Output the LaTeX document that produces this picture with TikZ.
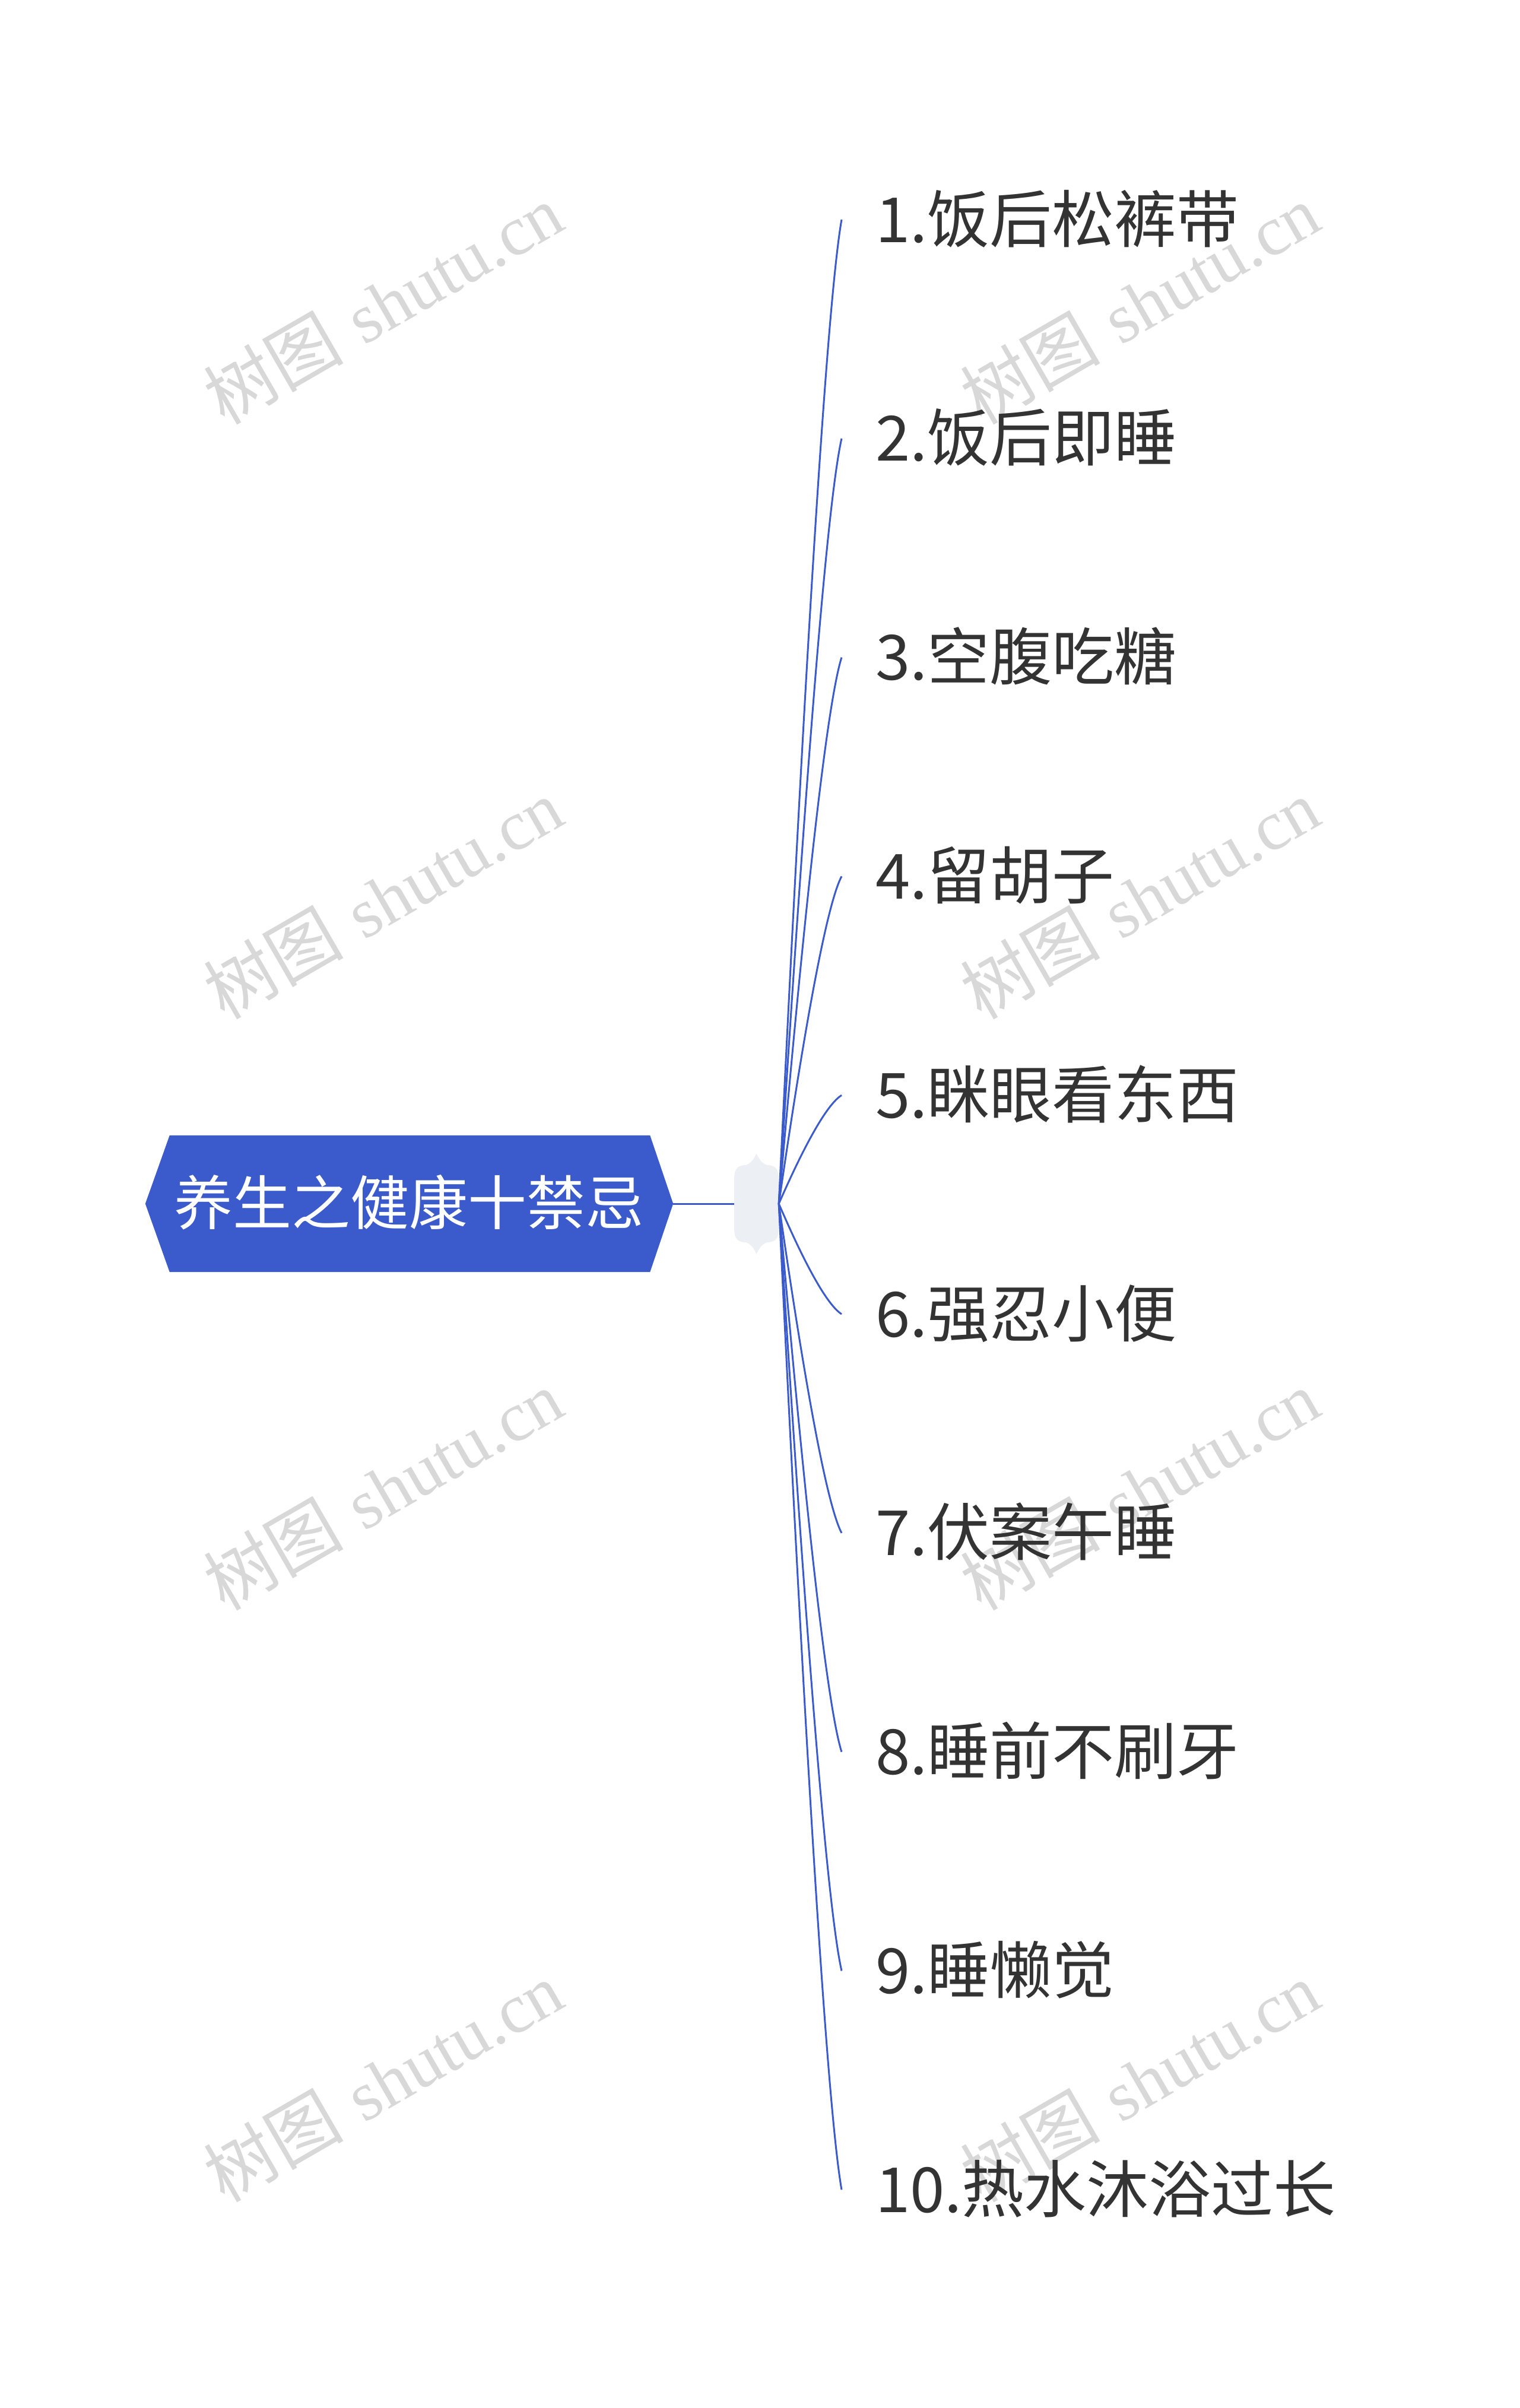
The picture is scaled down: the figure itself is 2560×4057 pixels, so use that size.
\documentclass[tikz,border=0pt]{standalone}
\usepackage{fontspec}
\newfontfamily\cjk{Noto Sans CJK SC}
\newfontfamily\wmlatin{Liberation Serif}
\usetikzlibrary{backgrounds,calc}
\definecolor{mainblue}{RGB}{59,91,204}
\definecolor{hubgray}{RGB}{236,239,243}
\definecolor{txt}{RGB}{51,51,51}
\definecolor{wmgray}{RGB}{216,216,216}
\begin{document}
\begin{tikzpicture}[x=1pt,y=-1pt,
  branch/.style={draw=mainblue,line width=3pt},
  leaf/.style={anchor=west,inner xsep=57pt,inner ysep=0pt,text=txt,
    text height=84pt,text depth=8pt,font=\cjk\fontsize{105}{120}\selectfont},
  rootnode/.style={minimum width=889pt,minimum height=230pt,inner sep=0pt,text=white,
    text height=79pt,text depth=8pt,font=\cjk\fontsize{99}{110}\selectfont},
  watermark/.style={text=wmgray,rotate=30,inner sep=0pt,font=\fontsize{118}{130}\selectfont}]
\useasboundingbox (0,0) rectangle (2560,4057);
\begin{scope}[on background layer]
\fill[white] (0,0) rectangle (2560,4057);
\end{scope}

% watermarks
\foreach \x/\y/\n in {645/512/1,645/1514/2,645/2510/3,645/3507/4,1920/512/5,1920/1514/6,1920/2510/7,1920/3507/8}
  \node[watermark] (wm\n) at (\x,\y) {{\cjk 树图} {\wmlatin shutu.cn}};

% root
\node[rootnode] (root) at (689.5,2028) {养生之健康十禁忌};
\begin{scope}[on background layer]
\fill[mainblue] (root.west) -- ([xshift=41pt]root.north west) -- ([xshift=-39pt]root.north east)
  -- (root.east) -- ([xshift=-39pt]root.south east) -- ([xshift=41pt]root.south west) -- cycle;
\end{scope}

% hub (collapse marker)
\node[minimum width=75pt,minimum height=130pt,inner sep=0pt] (hub) at (1274.5,2028) {};
\begin{scope}[on background layer]
\fill[hubgray,shift={(hub.center)}] (-37.5,-43) .. controls (-37.5,-60) and (-30,-65) .. (-18,-65)
  .. controls (-8,-68) and (-3,-78) .. (0,-85) .. controls (3,-78) and (8,-68) .. (18,-65)
  .. controls (30,-65) and (37.5,-60) .. (37.5,-43) -- (37.5,43)
  .. controls (37.5,60) and (30,65) .. (18,65) .. controls (8,68) and (3,78) .. (0,85)
  .. controls (-3,78) and (-8,68) .. (-18,65) .. controls (-30,65) and (-37.5,60) .. (-37.5,43) -- cycle;
\end{scope}
\draw[branch] (root.east) -- (hub.west);

% children
\node[leaf] (c1) at (1418,370) {1.饭后松裤带};
\node[leaf] (c2) at (1418,738.8) {2.饭后即睡};
\node[leaf] (c3) at (1418,1107.6) {3.空腹吃糖};
\node[leaf] (c4) at (1418,1476.4) {4.留胡子};
\node[leaf] (c5) at (1418,1845.2) {5.眯眼看东西};
\node[leaf] (c6) at (1418,2214) {6.强忍小便};
\node[leaf] (c7) at (1418,2582.8) {7.伏案午睡};
\node[leaf] (c8) at (1418,2951.6) {8.睡前不刷牙};
\node[leaf] (c9) at (1418,3320.4) {9.睡懒觉};
\node[leaf] (c10) at (1418,3689.2) {10.热水沐浴过长};

\foreach \i in {1,...,10}
  \draw[branch] let \p1=(hub.east), \p2=(c\i.west) in
    (\p1) .. controls (\x1+47pt, {\y1+0.5867*(\y2-\y1)}) and (\x2-23.3pt, {\y2-0.08*(\y2-\y1)}) .. (\p2);
\end{tikzpicture}
\end{document}
